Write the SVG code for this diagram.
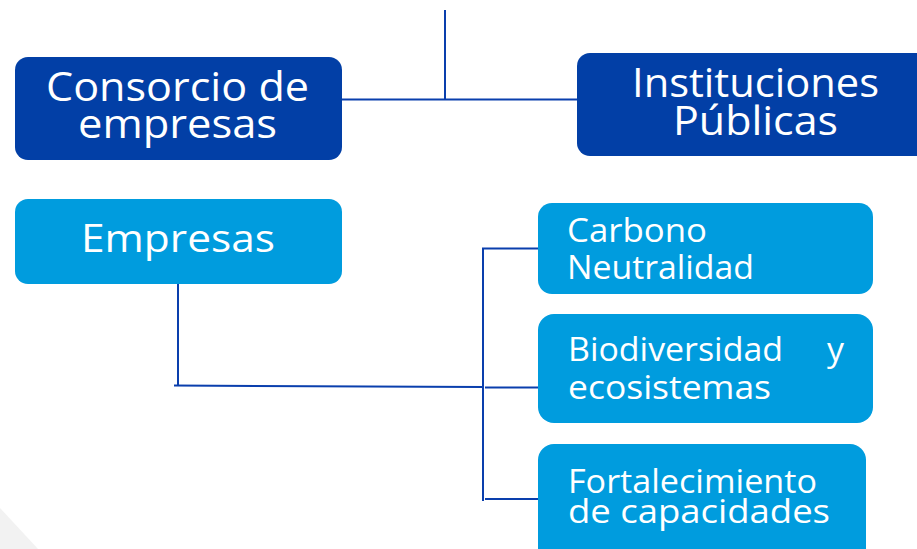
<svg xmlns="http://www.w3.org/2000/svg" width="917" height="549" viewBox="0 0 917 549">
<style>
.dark{fill:#023fa6}
.light{fill:#009cde}
text{font-family:"Open Sans","Noto Sans",sans-serif;fill:#ffffff}
.big{font-size:40px}
.mid{font-size:38px}
.sm{font-size:33px}
.con{stroke:#0a3fad;stroke-width:2;fill:none}
</style>
<rect width="917" height="549" fill="#ffffff"/>
<polygon points="0,508 38,549 0,549" fill="#f2f2f2"/>
<g id="connectors">
<line class="con" x1="445" y1="10" x2="445" y2="99"/>
<line class="con" x1="342" y1="99.5" x2="578" y2="99.5"/>
<line class="con" x1="178" y1="284" x2="178" y2="386"/>
<line class="con" x1="174" y1="385.5" x2="482" y2="387"/>
<line class="con" x1="483" y1="248" x2="483" y2="501"/>
<line class="con" x1="482" y1="248.5" x2="539" y2="248.5"/>
<line class="con" x1="485" y1="387.5" x2="539" y2="387.5"/>
<line class="con" x1="485" y1="499" x2="539" y2="499"/>
</g>
<g id="consorcio">
<rect class="dark" x="15" y="57" width="327" height="103" rx="13"/>
<text class="big" x="46" y="101" textLength="263" lengthAdjust="spacingAndGlyphs">Consorcio de</text>
<text class="big" x="78" y="138" textLength="199" lengthAdjust="spacingAndGlyphs">empresas</text>
</g>
<g id="instituciones">
<rect class="dark" x="577" y="53" width="360" height="103" rx="13"/>
<text class="big" x="632" y="97" textLength="247" lengthAdjust="spacingAndGlyphs">Instituciones</text>
<text class="big" x="673" y="135" textLength="165" lengthAdjust="spacingAndGlyphs">Públicas</text>
</g>
<g id="empresas">
<rect class="light" x="15" y="199" width="327" height="85" rx="13"/>
<text class="mid" x="81" y="252" textLength="194" lengthAdjust="spacingAndGlyphs">Empresas</text>
</g>
<g id="carbono">
<rect class="light" x="538" y="203" width="335" height="91" rx="14"/>
<text class="sm" x="567" y="242" textLength="140" lengthAdjust="spacingAndGlyphs">Carbono</text>
<text class="sm" x="567" y="279" textLength="187" lengthAdjust="spacingAndGlyphs">Neutralidad</text>
</g>
<g id="biodiversidad">
<rect class="light" x="538" y="314" width="335" height="109" rx="16"/>
<text class="sm" x="568" y="361" textLength="215" lengthAdjust="spacingAndGlyphs">Biodiversidad</text>
<text class="sm" x="827" y="361" textLength="17" lengthAdjust="spacingAndGlyphs">y</text>
<text class="sm" x="568" y="399" textLength="203" lengthAdjust="spacingAndGlyphs">ecosistemas</text>
</g>
<g id="fortalecimiento">
<rect class="light" x="538" y="444" width="328" height="125" rx="16"/>
<text class="sm" x="568" y="493" textLength="249" lengthAdjust="spacingAndGlyphs">Fortalecimiento</text>
<text class="sm" x="568" y="523" textLength="262" lengthAdjust="spacingAndGlyphs">de capacidades</text>
</g>
</svg>
